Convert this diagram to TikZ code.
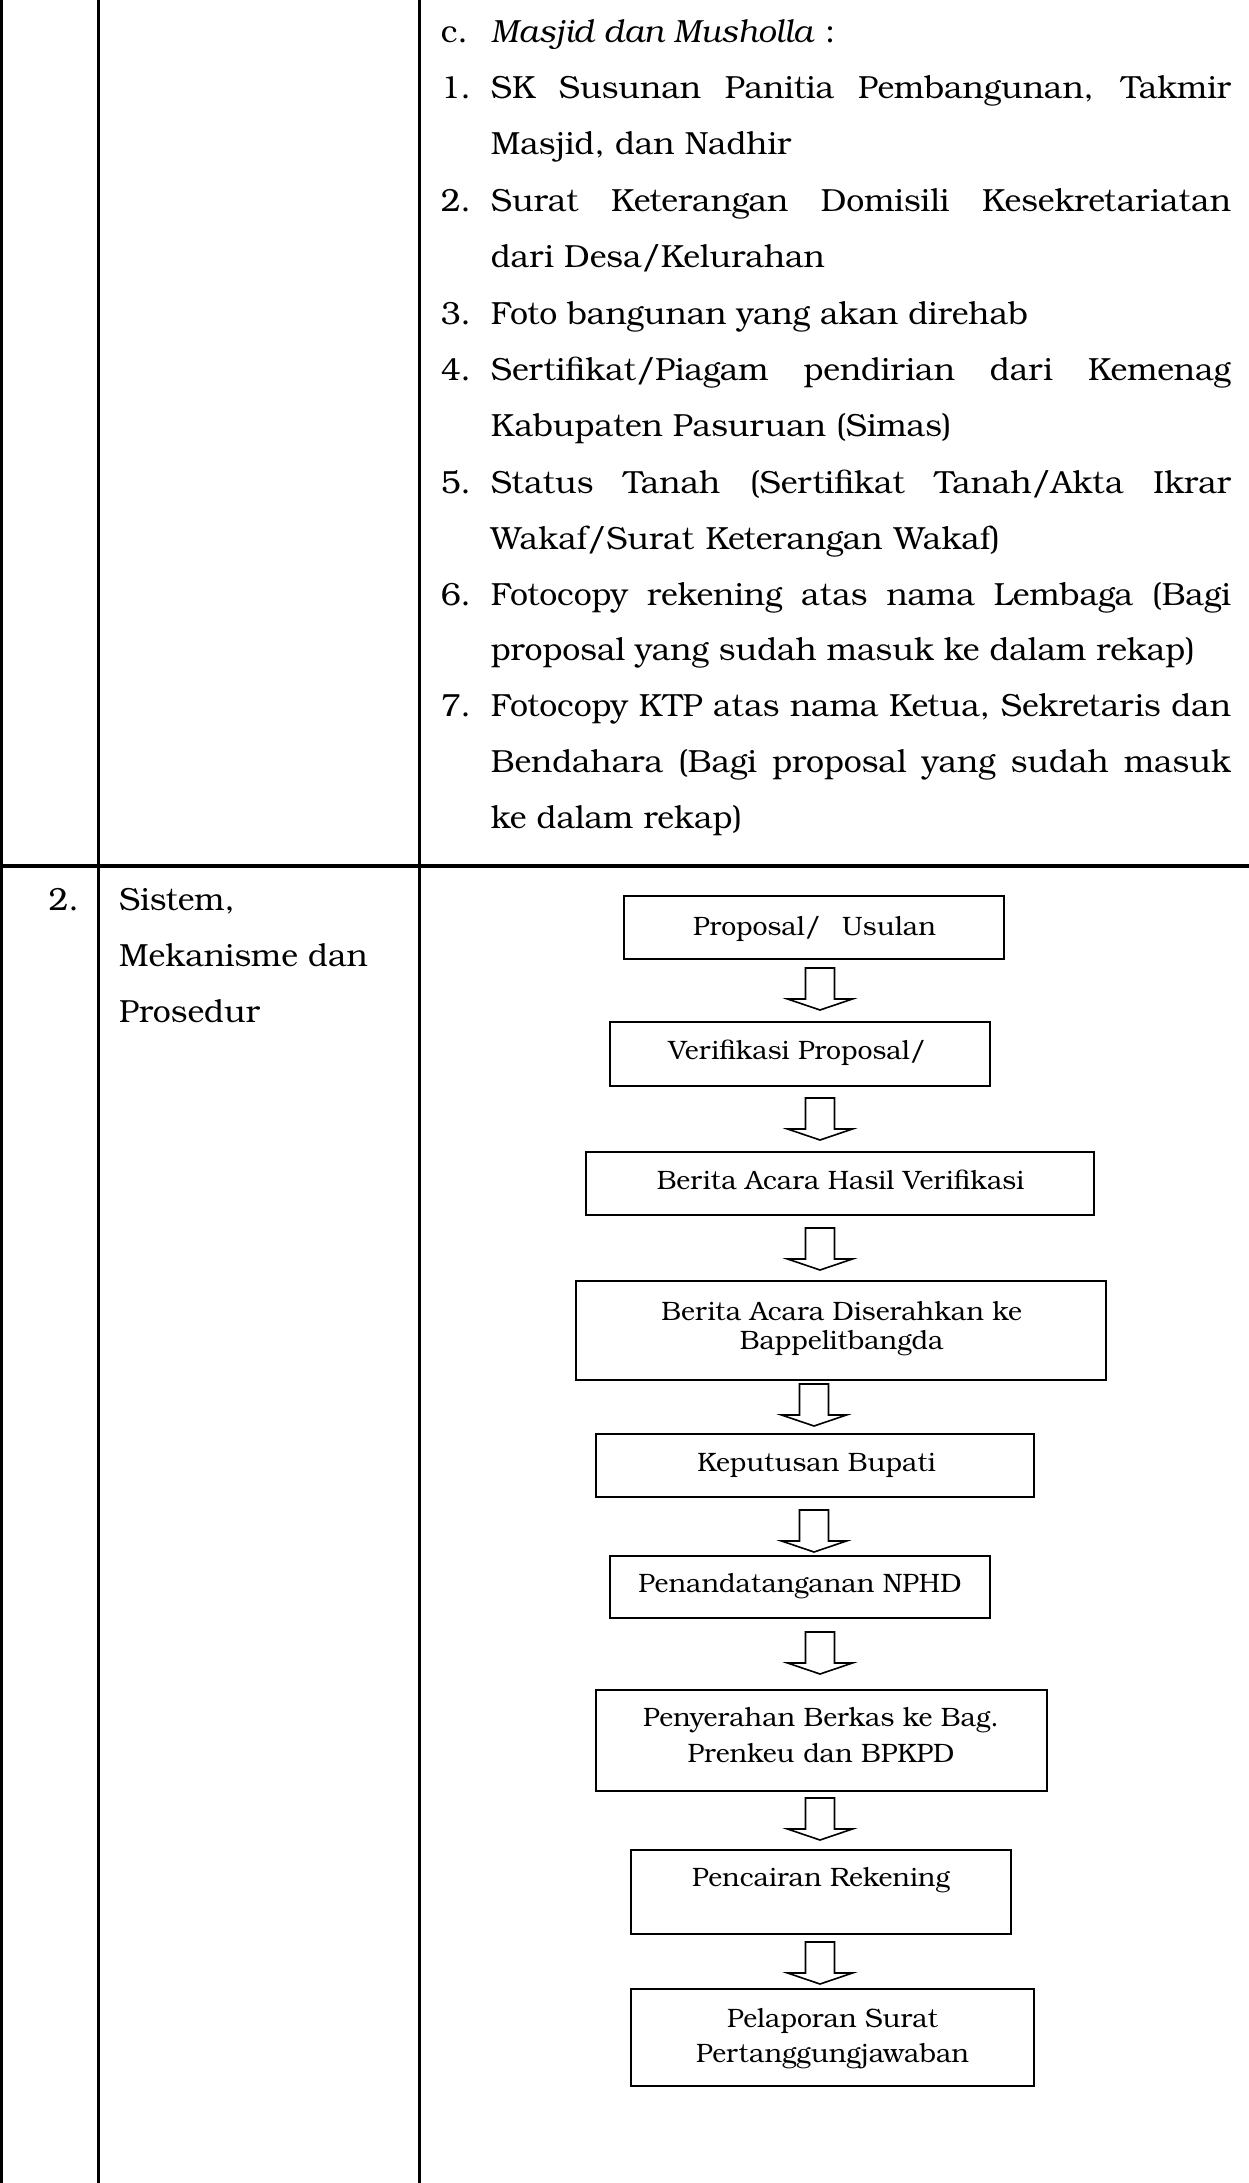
\documentclass[tikz,border=0pt]{standalone}
\usepackage{fontspec}
\setmainfont{texgyrebonum}[Extension=.otf, UprightFont=*-regular, ItalicFont=*-italic, BoldFont=*-bold, BoldItalicFont=*-bolditalic]
\newcommand{\bodysize}{\fontsize{32pt}{56pt}\selectfont}
\newcommand{\flowsize}{\fontsize{26.6pt}{32pt}\selectfont}
\newcommand{\just}[1]{\makebox[740pt][s]{#1}}
\newcommand{\spread}[2]{\makebox[#1][s]{#2}}

\tikzset{
  tablerule/.style={line width=3pt},
  rowrule/.style={line width=4pt},
  body/.style={anchor=base west, inner sep=0pt, font=\bodysize},
  bodyr/.style={anchor=base east, inner sep=0pt, font=\bodysize},
  stepbox/.style={draw, rectangle, line width=1.8pt, inner sep=0pt},
  flowtext/.style={anchor=base, inner sep=0pt, font=\flowsize},
  arrowline/.style={draw, fill=white, line width=1.6pt, line join=miter},
  downarrow/.pic={
    \path[arrowline] (-14.5,0) -- (-14.5,31) -- (-32.5,31) -- (0,42)
      -- (32.5,31) -- (14.5,31) -- (14.5,0) -- cycle;
  }
}

\begin{document}
\begin{tikzpicture}[x=1pt, y=-1pt]
\useasboundingbox (0,0) rectangle (1249,2183);
\fill[white] (0,0) rectangle (1249,2183);

% table grid
\draw[tablerule] (1,0) -- (1,2183);
\draw[tablerule] (98.5,0) -- (98.5,2183);
\draw[tablerule] (419.5,0) -- (419.5,2183);
\draw[rowrule] (0,866) -- (1249,866);

% requirements list for mosques
\node[body] (c0n) at (440.7,42.5) {c.};
\node[body] (c0t) at (490.7,42.5) {\textit{Masjid dan Musholla} :};
\node[body] (c1n) at (440.7,99) {1.};
\node[body] (c1t) at (490.7,99) {\just{SK Susunan Panitia Pembangunan, Takmir}};
\node[body] (c2t) at (490.7,155) {Masjid, dan Nadhir};
\node[body] (c3n) at (440.7,211.5) {2.};
\node[body] (c3t) at (490.7,211.5) {\just{Surat Keterangan Domisili Kesekretariatan}};
\node[body] (c4t) at (490.7,267.7) {dari Desa/Kelurahan};
\node[body] (c5n) at (440.7,324) {3.};
\node[body] (c5t) at (490.7,324) {\spread{537pt}{Foto bangunan yang akan direhab}};
\node[body] (c6n) at (440.7,380) {4.};
\node[body] (c6t) at (490.7,380) {\just{Sertifikat/Piagam pendirian dari Kemenag}};
\node[body] (c7t) at (490.7,436.5) {Kabupaten Pasuruan (Simas)};
\node[body] (c8n) at (440.7,493) {5.};
\node[body] (c8t) at (490.7,493) {\just{Status Tanah (Sertifikat Tanah/Akta Ikrar}};
\node[body] (c9t) at (490.7,549) {\spread{509pt}{Wakaf/Surat Keterangan Wakaf)}};
\node[body] (c10n) at (440.7,605) {6.};
\node[body] (c10t) at (490.7,605) {\just{Fotocopy rekening atas nama Lembaga (Bagi}};
\node[body] (c11t) at (490.7,660.5) {\spread{704pt}{proposal yang sudah masuk ke dalam rekap)}};
\node[body] (c12n) at (440.7,716.5) {7.};
\node[body] (c12t) at (490.7,716.5) {\just{Fotocopy KTP atas nama Ketua, Sekretaris dan}};
\node[body] (c13t) at (490.7,772.5) {\just{Bendahara (Bagi proposal yang sudah masuk}};
\node[body] (c14t) at (490.7,828) {ke dalam rekap)};

% second row heading
\node[bodyr] (n2) at (79,910) {2.};
\node[body] (h1) at (119,910) {Sistem,};
\node[body] (h2) at (119,966) {Mekanisme dan};
\node[body] (h3) at (119,1022) {Prosedur};

% flowchart boxes
\node[stepbox, minimum width=380pt, minimum height=63pt] (b1) at (814,927.5) {};
\node[stepbox, minimum width=380pt, minimum height=64pt] (b2) at (800,1054) {};
\node[stepbox, minimum width=508pt, minimum height=63pt] (b3) at (840,1183.5) {};
\node[stepbox, minimum width=530pt, minimum height=99pt] (b4) at (841,1330.5) {};
\node[stepbox, minimum width=438pt, minimum height=63pt] (b5) at (815,1465.5) {};
\node[stepbox, minimum width=380pt, minimum height=62pt] (b6) at (800,1587) {};
\node[stepbox, minimum width=451pt, minimum height=101pt] (b7) at (821.5,1740.5) {};
\node[stepbox, minimum width=380pt, minimum height=84pt] (b8) at (821,1892) {};
\node[stepbox, minimum width=403pt, minimum height=97pt] (b9) at (832.5,2037.5) {};

% box labels
\node[flowtext] (t1) at (814.5,935) {Proposal/\hspace{13pt} Usulan};
\node[flowtext] (t2) at (797,1059) {Verifikasi Proposal/};
\node[flowtext] (t3) at (840.5,1189) {Berita Acara Hasil Verifikasi};
\node[flowtext] (t4a) at (841.7,1320) {Berita Acara Diserahkan ke};
\node[flowtext] (t4b) at (841.7,1349) {Bappelitbangda};
\node[flowtext] (t5) at (816.5,1471) {Keputusan Bupati};
\node[flowtext] (t6) at (800,1592) {Penandatanganan NPHD};
\node[flowtext] (t7a) at (821,1726) {Penyerahan Berkas ke Bag.};
\node[flowtext] (t7b) at (821,1762) {Prenkeu dan BPKPD};
\node[flowtext] (t8) at (821,1886) {Pencairan Rekening};
\node[flowtext] (t9a) at (832.5,2027) {Pelaporan Surat};
\node[flowtext] (t9b) at (832.5,2062) {Pertanggungjawaban};

% block arrows between the steps
\pic (a1) at (820,968) {downarrow};
\pic (a2) at (820,1098) {downarrow};
\pic (a3) at (820,1228) {downarrow};
\pic (a4) at (814,1384) {downarrow};
\pic (a5) at (814,1510) {downarrow};
\pic (a6) at (820,1632) {downarrow};
\pic (a7) at (820,1798) {downarrow};
\pic (a8) at (820,1942) {downarrow};
\end{tikzpicture}
\end{document}
